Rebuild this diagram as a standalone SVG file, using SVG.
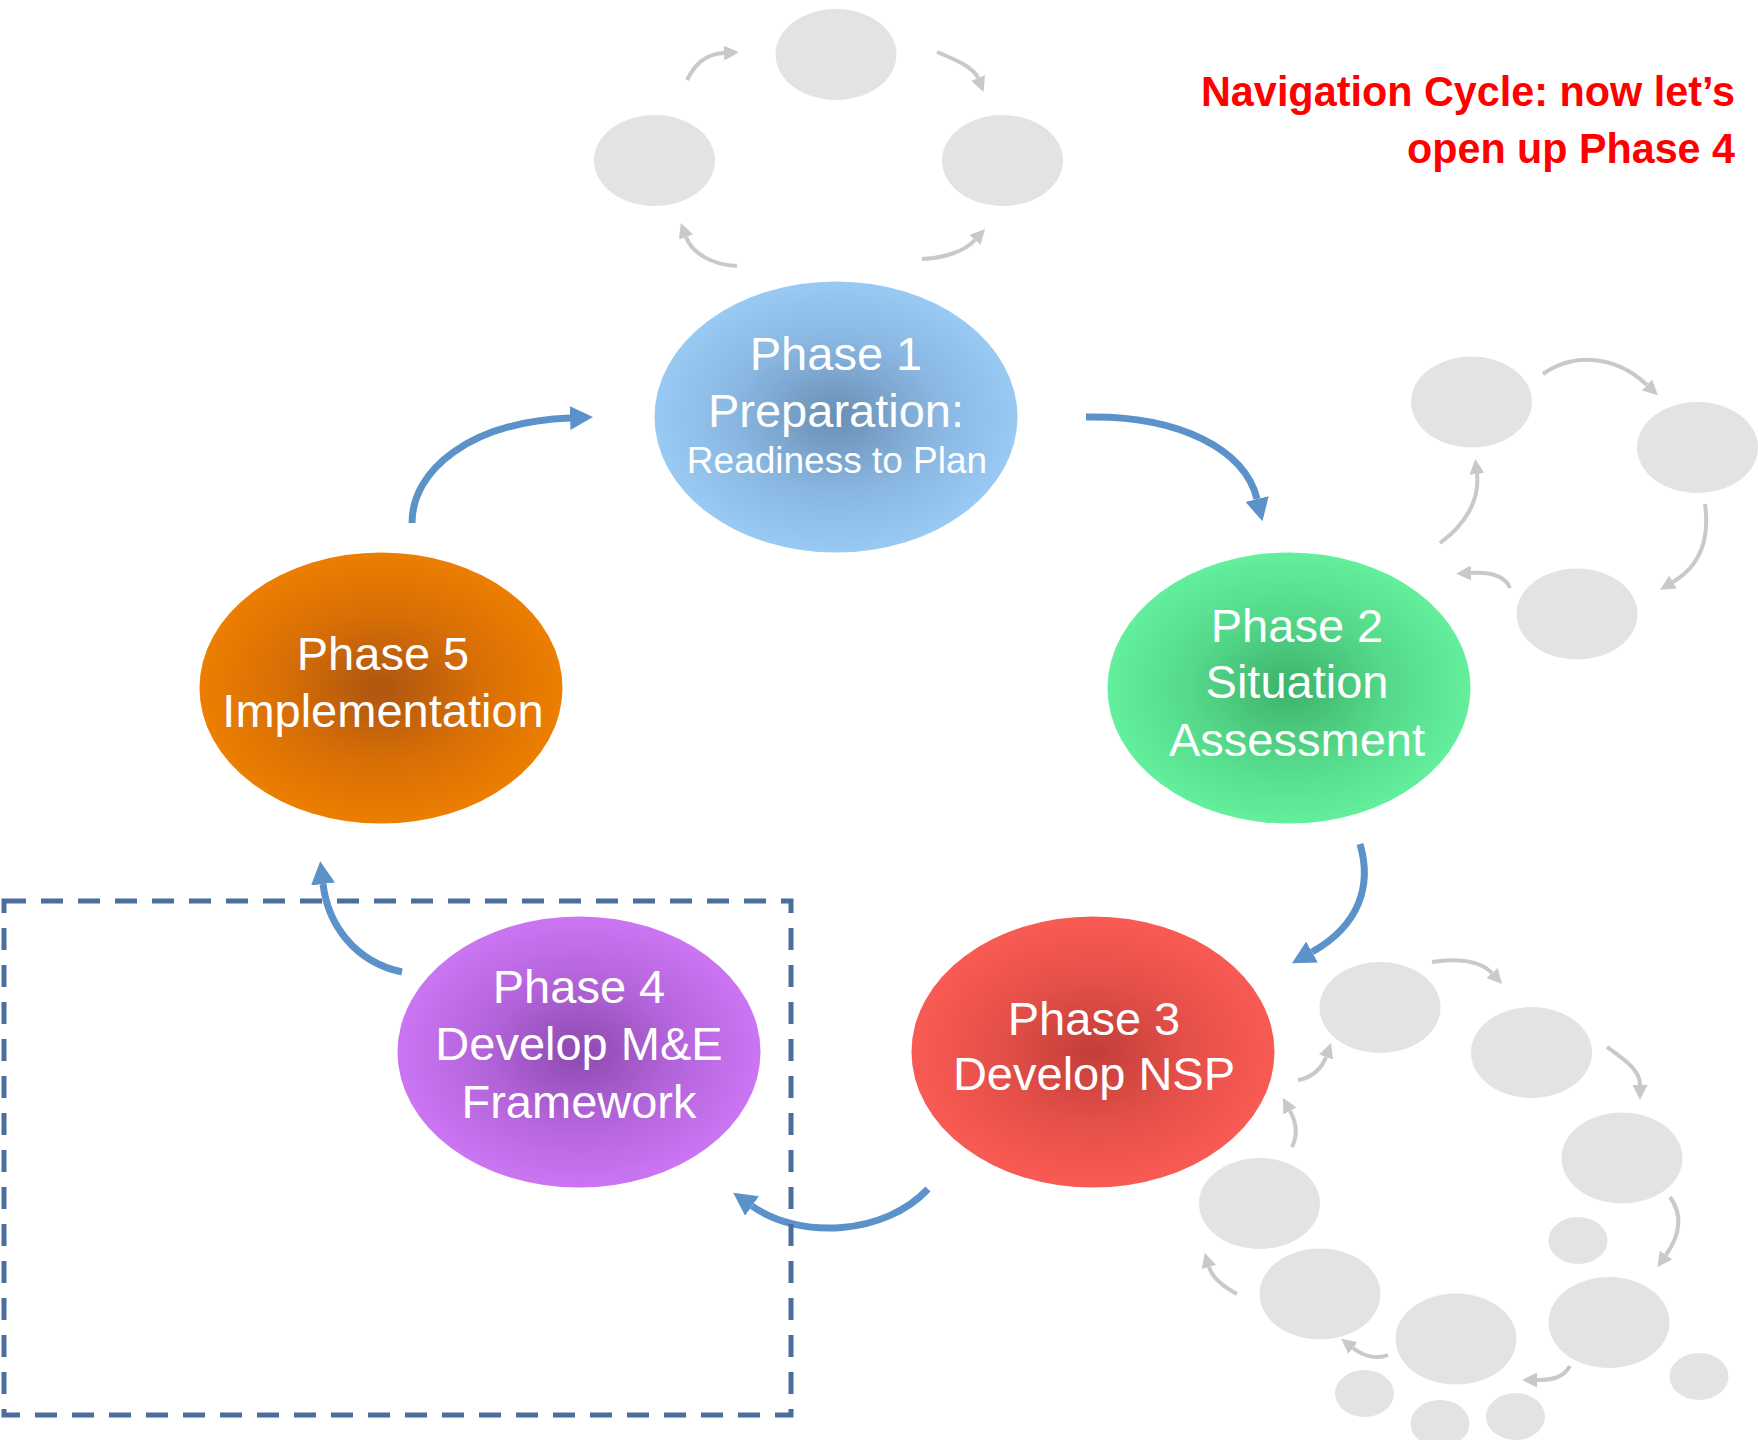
<svg xmlns="http://www.w3.org/2000/svg" width="1758" height="1440" viewBox="0 0 1758 1440">
<defs>
<style>
.ghost{fill:#e3e3e3}
.garr{fill:none;stroke:#c9c9c9;stroke-width:4;marker-end:url(#gh)}
.barr{fill:none;stroke:#5b92c9;stroke-width:7;marker-end:url(#bh)}
.lbl{font-family:"Liberation Sans",Arial,sans-serif;fill:#ffffff;text-anchor:middle;font-size:47px}
.sub{font-size:37px}
.title{font-family:"Liberation Sans",Arial,sans-serif;font-weight:bold;fill:#ff0000;font-size:43px;text-anchor:end}
</style>
<marker id="bh" viewBox="0 0 23 24" refX="0" refY="12" markerWidth="23" markerHeight="24" markerUnits="userSpaceOnUse" orient="auto">
<path d="M0,0 L23,12 L0,24 z" fill="#5b92c9"/>
</marker>
<marker id="gh" viewBox="0 0 15 15" refX="0" refY="7.5" markerWidth="15" markerHeight="15" markerUnits="userSpaceOnUse" orient="auto">
<path d="M0,0 L15,7.5 L0,15 z" fill="#c9c9c9"/>
</marker>
<radialGradient id="g1"><stop offset="0" stop-color="#6a8fb4"/><stop offset="0.55" stop-color="#88b6e0"/><stop offset="1" stop-color="#99caf4"/></radialGradient>
<radialGradient id="g2"><stop offset="0" stop-color="#3db26a"/><stop offset="0.55" stop-color="#55d98b"/><stop offset="1" stop-color="#63ef9c"/></radialGradient>
<radialGradient id="g3"><stop offset="0" stop-color="#c23e38"/><stop offset="0.55" stop-color="#e6504a"/><stop offset="1" stop-color="#f85b53"/></radialGradient>
<radialGradient id="g4"><stop offset="0" stop-color="#8c4aae"/><stop offset="0.55" stop-color="#b565dc"/><stop offset="1" stop-color="#cb75f3"/></radialGradient>
<radialGradient id="g5"><stop offset="0" stop-color="#ad5510"/><stop offset="0.55" stop-color="#d86f06"/><stop offset="1" stop-color="#ec7e00"/></radialGradient>
</defs>
<rect width="1758" height="1440" fill="#ffffff"/>

<g id="ghost-top">
<ellipse class="ghost" cx="836" cy="54.5" rx="60.5" ry="45.5"/>
<ellipse class="ghost" cx="654.5" cy="160.5" rx="60.5" ry="45.5"/>
<ellipse class="ghost" cx="1002.5" cy="160.5" rx="60.5" ry="45.5"/>
</g>
<g id="ghost-right">
<ellipse class="ghost" cx="1471.5" cy="402" rx="60.5" ry="45.5"/>
<ellipse class="ghost" cx="1697.5" cy="447.5" rx="60.5" ry="45.5"/>
<ellipse class="ghost" cx="1577" cy="614" rx="60.5" ry="45.5"/>
</g>
<g id="ghost-bottom">
<ellipse class="ghost" cx="1380" cy="1007.5" rx="60.5" ry="45.5"/>
<ellipse class="ghost" cx="1531.5" cy="1052.5" rx="60.5" ry="45.5"/>
<ellipse class="ghost" cx="1622" cy="1158" rx="60.5" ry="45.5"/>
<ellipse class="ghost" cx="1578" cy="1240.5" rx="29.5" ry="23.5"/>
<ellipse class="ghost" cx="1609" cy="1322.5" rx="60.5" ry="45.5"/>
<ellipse class="ghost" cx="1699" cy="1376.5" rx="29.5" ry="23.5"/>
<ellipse class="ghost" cx="1456" cy="1339" rx="60.5" ry="45.5"/>
<ellipse class="ghost" cx="1320" cy="1294" rx="60.5" ry="45.5"/>
<ellipse class="ghost" cx="1259.5" cy="1203.5" rx="60.5" ry="45.5"/>
<ellipse class="ghost" cx="1364.5" cy="1393.5" rx="29.5" ry="23.5"/>
<ellipse class="ghost" cx="1440" cy="1423.5" rx="29.5" ry="23.5"/>
<ellipse class="ghost" cx="1515.5" cy="1416.5" rx="29.5" ry="23.5"/>
</g>

<g id="connectors">
<path class="garr" d="M687,80 C694,66 704,54 724,53"/>
<path class="garr" d="M937,52 C957,60 974,68 978,78"/>
<path class="garr" d="M737,266 C712,265 692,253 686,237"/>
<path class="garr" d="M922,259 C945,258 965,251 975,240"/>
<path class="garr" d="M1543,374 C1570,355 1612,352 1647,385"/>
<path class="garr" d="M1705,504 C1710,540 1700,566 1673,582"/>
<path class="garr" d="M1510,588 C1505,576 1490,572 1471,573"/>
<path class="garr" d="M1440,543 C1465,525 1480,500 1477,474"/>
<path class="garr" d="M1432,962 C1455,958 1480,960 1492,973"/>
<path class="garr" d="M1607,1047 C1625,1060 1640,1070 1640,1085"/>
<path class="garr" d="M1670,1197 C1683,1215 1680,1235 1666,1255"/>
<path class="garr" d="M1570,1366 C1563,1378 1552,1380 1537,1380"/>
<path class="garr" d="M1388,1355 C1375,1360 1362,1355 1353,1348"/>
<path class="garr" d="M1237,1294 C1222,1286 1212,1277 1209,1267"/>
<path class="garr" d="M1292,1147 C1298,1135 1296,1122 1290,1111"/>
<path class="garr" d="M1298,1080 C1312,1078 1322,1068 1326,1057"/>
<path class="barr" d="M412,523 C412,470 470,422 570,418"/>
<path class="barr" d="M1086,417 C1180,415 1245,450 1257,499"/>
<path class="barr" d="M1360,844 C1372,885 1360,925 1312,952"/>
<path class="barr" d="M928,1189 C885,1235 800,1240 752,1206"/>
<path class="barr" d="M402,972 C355,962 328,925 323,884"/>
</g>

<g id="phase4-box">
<rect x="4" y="901" width="787" height="514" fill="none" stroke="#4a6f9e" stroke-width="5" stroke-dasharray="22 15"/>
</g>

<g id="phase1">
<ellipse cx="836" cy="417" rx="181.5" ry="135.5" fill="url(#g1)"/>
<text class="lbl" x="836" y="370">Phase 1</text>
<text class="lbl" x="836" y="427">Preparation:</text>
<text class="lbl sub" x="837" y="473">Readiness to Plan</text>
</g>
<g id="phase2">
<ellipse cx="1289" cy="688" rx="181.5" ry="135.5" fill="url(#g2)"/>
<text class="lbl" x="1297" y="642">Phase 2</text>
<text class="lbl" x="1297" y="698">Situation</text>
<text class="lbl" x="1297" y="756">Assessment</text>
</g>
<g id="phase3">
<ellipse cx="1093" cy="1052" rx="181.5" ry="135.5" fill="url(#g3)"/>
<text class="lbl" x="1094" y="1035">Phase 3</text>
<text class="lbl" x="1094" y="1090">Develop NSP</text>
</g>
<g id="phase4">
<ellipse cx="579" cy="1052" rx="181.5" ry="135.5" fill="url(#g4)"/>
<text class="lbl" x="579" y="1003">Phase 4</text>
<text class="lbl" x="579" y="1060">Develop M&amp;E</text>
<text class="lbl" x="579" y="1118">Framework</text>
</g>
<g id="phase5">
<ellipse cx="381" cy="688" rx="181.5" ry="135.5" fill="url(#g5)"/>
<text class="lbl" x="383" y="670">Phase 5</text>
<text class="lbl" x="383" y="727">Implementation</text>
</g>

<g id="title">
<text class="title" x="1735" y="106" textLength="534" lengthAdjust="spacingAndGlyphs">Navigation Cycle: now let’s</text>
<text class="title" x="1735" y="163" textLength="328" lengthAdjust="spacingAndGlyphs">open up Phase 4</text>
</g>
</svg>
